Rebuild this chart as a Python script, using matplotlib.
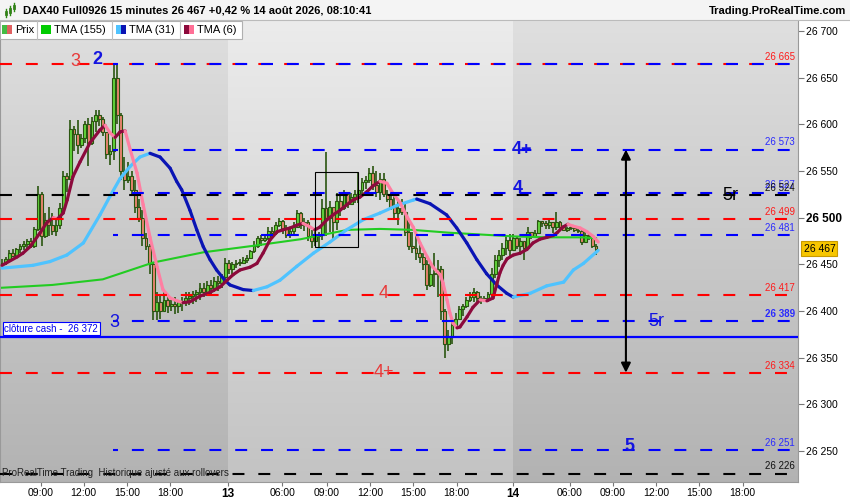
# DAX40 15 minutes chart with levels, ProRealTime style.

import matplotlib
matplotlib.use("Agg")
import matplotlib.pyplot as plt
import numpy as np
from matplotlib.collections import LineCollection
from matplotlib.patches import Rectangle

plt.rcParams['font.family'] = ['Liberation Sans', 'DejaVu Sans']
plt.rcParams['lines.scale_dashes'] = False

# Price bars (15 minutes), one value per bar. Open = previous close.
first_open = 26450
highs = [26456, 26458, 26465, 26466, 26468, 26472, 26475, 26477, 26478, 26490,
         26534, 26528, 26505, 26512, 26505, 26500, 26516, 26550, 26548, 26605,
         26598, 26605, 26590, 26604, 26607, 26608, 26615, 26615, 26608, 26592,
         26578, 26666, 26666, 26612, 26565, 26560, 26550, 26540, 26520, 26508,
         26484, 26472, 26452, 26420, 26418, 26420, 26418, 26412, 26415, 26412,
         26415, 26420, 26420, 26422, 26423, 26430, 26430, 26432, 26433, 26437,
         26438, 26440, 26457, 26455, 26453, 26455, 26456, 26458, 26460, 26465,
         26475, 26480, 26482, 26480, 26490, 26490, 26495, 26500, 26498, 26492,
         26490, 26495, 26508, 26506, 26500, 26498, 26487, 26486, 26485, 26520,
         26570, 26518, 26510, 26527, 26526, 26530, 26526, 26527, 26530, 26548,
         26543, 26545, 26553, 26555, 26550, 26548, 26548, 26530, 26527, 26524,
         26519, 26520, 26515, 26495, 26485, 26484, 26475, 26462, 26455, 26452,
         26462, 26455, 26448, 26402, 26380, 26390, 26398, 26405, 26408, 26415,
         26420, 26425, 26422, 26416, 26416, 26420, 26446, 26460, 26465, 26473,
         26481, 26483, 26483, 26480, 26478, 26473, 26490, 26485, 26487, 26498,
         26496, 26496, 26498, 26495, 26506, 26497, 26491, 26490, 26491, 26490,
         26489, 26487, 26485, 26484, 26478, 26472]
lows = [26448, 26449, 26455, 26458, 26458, 26462, 26465, 26467, 26468, 26468,
        26486, 26470, 26478, 26480, 26482, 26480, 26488, 26505, 26528, 26540,
        26572, 26568, 26575, 26580, 26555, 26578, 26592, 26598, 26588, 26563,
        26556, 26562, 26600, 26540, 26530, 26537, 26525, 26505, 26495, 26470,
        26465, 26440, 26390, 26390, 26392, 26400, 26398, 26400, 26397, 26398,
        26400, 26405, 26407, 26408, 26410, 26412, 26415, 26416, 26418, 26420,
        26422, 26425, 26432, 26440, 26440, 26446, 26448, 26450, 26452, 26456,
        26462, 26468, 26470, 26474, 26476, 26480, 26482, 26490, 26483, 26478,
        26478, 26480, 26490, 26488, 26486, 26475, 26468, 26470, 26468, 26476,
        26480, 26485, 26475, 26487, 26502, 26508, 26510, 26515, 26516, 26516,
        26524, 26531, 26537, 26530, 26522, 26519, 26522, 26517, 26508, 26500,
        26492, 26503, 26480, 26465, 26462, 26455, 26452, 26444, 26423, 26426,
        26426, 26415, 26390, 26350, 26357, 26365, 26385, 26392, 26395, 26403,
        26410, 26410, 26410, 26408, 26410, 26410, 26415, 26435, 26447, 26455,
        26460, 26458, 26465, 26466, 26460, 26455, 26466, 26477, 26479, 26483,
        26490, 26488, 26488, 26484, 26487, 26486, 26486, 26485, 26487, 26485,
        26484, 26471, 26474, 26476, 26468, 26460]
closes = [26452, 26456, 26462, 26459, 26466, 26470, 26472, 26475, 26470, 26488,
          26525, 26480, 26498, 26492, 26486, 26492, 26510, 26545, 26542, 26595,
          26590, 26578, 26585, 26600, 26580, 26604, 26610, 26606, 26592, 26568,
          26572, 26650, 26610, 26550, 26540, 26545, 26530, 26512, 26500, 26478,
          26470, 26450, 26400, 26410, 26400, 26412, 26405, 26408, 26405, 26410,
          26410, 26414, 26416, 26418, 26420, 26425, 26420, 26428, 26425, 26432,
          26430, 26436, 26452, 26445, 26450, 26452, 26452, 26455, 26457, 26464,
          26470, 26478, 26476, 26478, 26486, 26484, 26492, 26496, 26488, 26482,
          26486, 26490, 26505, 26492, 26495, 26480, 26475, 26480, 26482, 26510,
          26500, 26512, 26495, 26518, 26510, 26525, 26515, 26522, 26525, 26530,
          26538, 26540, 26548, 26535, 26528, 26542, 26525, 26520, 26512, 26505,
          26510, 26506, 26485, 26470, 26468, 26462, 26458, 26450, 26428, 26440,
          26440, 26445, 26400, 26365, 26372, 26385, 26392, 26402, 26405, 26412,
          26415, 26420, 26414, 26412, 26414, 26418, 26440, 26455, 26460, 26468,
          26476, 26465, 26478, 26470, 26475, 26468, 26485, 26480, 26484, 26496,
          26494, 26492, 26495, 26490, 26495, 26490, 26487, 26489, 26489, 26487,
          26486, 26474, 26482, 26480, 26470, 26467]

# Moving averages (bar index, price).
ma155_x = [0, 14, 28, 42, 56, 70, 83, 96, 105, 114, 124, 133, 142, 151, 161, 165]
ma155 = [26425, 26428, 26434, 26452, 26463, 26470, 26477, 26487, 26488, 26487,
         26484, 26482, 26480, 26479, 26479, 26478]

ma31_x = [0, 8.6, 13.3, 18, 22.6, 27.2, 30, 32.8, 35.6, 38.3, 41.1, 43.9, 46.7,
          48.5, 49.9, 52.2, 54.1, 55.9, 57.8, 59.6, 61.9, 63.3, 67, 69.8, 73.6,
          77.2, 81.9, 86.5, 91.1, 95.7, 100.4, 105, 109.6, 114.3, 115.2, 118.9,
          123.5, 126.3, 129.1, 131.9, 134.6, 137.4, 140.2, 142, 146.7, 151.3, 156,
          158.7, 161.5, 165.6]
ma31 = [26446, 26449, 26453, 26460, 26473, 26503, 26523, 26542, 26555, 26565,
        26569, 26565, 26553, 26539, 26530, 26508, 26487, 26469, 26455, 26444,
        26433, 26428, 26423, 26422, 26426, 26433, 26448, 26462, 26474, 26487,
        26498, 26505, 26513, 26519, 26520, 26515, 26503, 26489, 26473, 26455,
        26440, 26428, 26419, 26415, 26419, 26427, 26431, 26444, 26451, 26465]

ma6_x = [0, 4.2, 5.8, 7.8, 10.6, 12.5, 14.2, 15.5, 17, 18.1, 19.7, 21.7, 24.4,
         27.2, 28.6, 30, 31.4, 32.8, 34.2, 35.6, 37.5, 39.2, 41.1, 43.1, 44.7,
         46.7, 48.6, 50.3, 52.2, 55, 57.8, 60.6, 62.5, 64.2, 66.1, 68.9, 70.8,
         72.5, 74.4, 76.4, 78, 80, 81.9, 83.6, 85.6, 86.9, 88.3, 90.3, 91.9,
         93.9, 95.8, 97.5, 99.4, 101.4, 103, 105, 106.9, 108.6, 110.6, 112.5,
         114.2, 116.1, 118.1, 119.7, 121.7, 122.5, 123.6, 124.4, 125.3, 126.4,
         127.2, 129.2, 130.8, 132.8, 134.7, 136.4, 137.5, 138.3, 139.2, 140.3,
         142, 143.9, 145.8, 147.5, 149.4, 151.4, 153.1, 154.2, 155.8, 157.2,
         158.6, 160.6, 162.5, 164.2, 165.6]
ma6 = [26449, 26458, 26462, 26469, 26484, 26495, 26500, 26499, 26505, 26519,
       26544, 26560, 26580, 26594, 26599, 26591, 26586, 26592, 26593, 26573,
       26548, 26514, 26479, 26447, 26423, 26414, 26411, 26409, 26410, 26416,
       26420, 26426, 26433, 26439, 26444, 26447, 26451, 26462, 26476, 26485,
       26487, 26489, 26492, 26494, 26490, 26487, 26490, 26498, 26503, 26508,
       26514, 26519, 26522, 26528, 26534, 26539, 26537, 26526, 26516, 26501,
       26490, 26473, 26458, 26447, 26439, 26430, 26412, 26398, 26387, 26382,
       26383, 26394, 26404, 26412, 26411, 26414, 26430, 26441, 26449, 26456,
       26460, 26462, 26466, 26473, 26477, 26479, 26481, 26484, 26490, 26493,
       26491, 26489, 26485, 26480, 26474]

# Levels.
red_levels = [26665, 26499, 26417, 26334]
blue_levels = [26665, 26573, 26527, 26481, 26389, 26251]
black_levels = [26524, 26226]
cash_close = 26372
last_price = 26467

# Time axis: tick positions in bars and their labels.
tick_pos = [10.7, 22.7, 34.7, 46.7, 62.8, 77.8, 90.2, 102.2, 114.2, 126.3,
            141.9, 157.7, 169.7, 181.7, 193.7, 205.7]
tick_labels = ['09:00', '12:00', '15:00', '18:00', '13', '06:00', '09:00', '12:00',
               '15:00', '18:00', '14', '06:00', '09:00', '12:00', '15:00', '18:00']
day_starts = [62.8, 141.9]
y_ticks = [26250, 26300, 26350, 26400, 26450, 26500, 26550, 26600, 26650, 26700]


def fmt(v):
    return f"{v:,}".replace(",", " ")


fig = plt.figure(figsize=(8.5, 5), dpi=100)
fig.patch.set_facecolor('white')

ax = fig.add_axes([0, 18 / 500, 798 / 850, 462 / 500])
xmin, xmax = -0.56, 221.1
ymin, ymax = 26216.9, 26711.8
ax.set_xlim(xmin, xmax)
ax.set_ylim(ymin, ymax)

# Background: vertical gradient, darker on day 12 and day 14.
grad = np.linspace(0, 1, 256)[:, None]
edges = [xmin] + day_starts + [xmax]
for k in range(3):
    if k == 1:
        top, bot = np.array([0.925, 0.925, 0.925]), np.array([0.765, 0.765, 0.765])
    else:
        top, bot = np.array([0.875, 0.875, 0.875]), np.array([0.70, 0.70, 0.70])
    img = top[None, None, :] * (1 - grad[:, :, None]) + bot[None, None, :] * grad[:, :, None]
    ax.imshow(img, extent=[edges[k], edges[k + 1], ymin, ymax], aspect='auto',
              origin='upper', zorder=0)

# Candles.
x = np.arange(len(closes))
c = np.array(closes, dtype=float)
o = np.concatenate([[first_open], c[:-1]])
h = np.array(highs, dtype=float)
l = np.array(lows, dtype=float)
up = c >= o
body_col = np.where(up, '#62d43c', '#ea8470')
ax.vlines(x, l, h, color='#2a5510', lw=1.2, zorder=3)
ax.bar(x, np.maximum(np.abs(c - o), 1.0), bottom=np.minimum(o, c), width=0.75,
       color=body_col, edgecolor='#2a5510', linewidth=0.8, zorder=4)


# Moving averages coloured by slope.
def slope_line(xs, ys, up_color, down_color, lw):
    pts = np.column_stack([xs, ys])
    segs = np.stack([pts[:-1], pts[1:]], axis=1)
    cols = [up_color if b >= a else down_color for a, b in zip(ys[:-1], ys[1:])]
    ax.add_collection(LineCollection(segs, colors=cols, linewidths=lw,
                                     capstyle='round', joinstyle='round', zorder=5))


ax.plot(ma155_x, ma155, color='#22cc22', lw=1.5, zorder=5)
slope_line(ma31_x, ma31, '#4fc3ff', '#0a14b4', 2.3)
slope_line(ma6_x, ma6, '#8c0a3c', '#ff7fa2', 2.3)

# Level lines.
dash = (0, (8.6, 10))
blue_start = 30.8
for v in red_levels:
    ax.hlines(v, xmin, xmax, colors='#ff0000', linestyles=[dash], lw=1.5, zorder=6)
for v in black_levels:
    ax.hlines(v, xmin, xmax, colors='#000000', linestyles=[dash], lw=1.5, zorder=6)
for v in blue_levels:
    ax.hlines(v, blue_start, xmax, colors='#0000ff', linestyles=[(5, (8.6, 10))], lw=1.5, zorder=6)
ax.hlines(cash_close, xmin, xmax, colors='#0000ff', lw=1.6, zorder=6)

# Value labels at the right end of the lines.
for v in red_levels:
    ax.annotate(fmt(v), xy=(1, v), xycoords=('axes fraction', 'data'), xytext=(-2, 1.5),
                textcoords='offset points', ha='right', va='bottom', fontsize=7,
                color='#ff1a1a', zorder=8)
for v in blue_levels:
    if v == 26665:
        continue
    ax.annotate(fmt(v), xy=(1, v), xycoords=('axes fraction', 'data'), xytext=(-2, 1.5),
                textcoords='offset points', ha='right', va='bottom', fontsize=7,
                color='#2a2aff', fontweight='bold' if v == 26389 else 'normal', zorder=8)
for v in black_levels:
    ax.annotate(fmt(v), xy=(1, v), xycoords=('axes fraction', 'data'), xytext=(-2, 1.5),
                textcoords='offset points', ha='right', va='bottom', fontsize=7,
                color='#111111', zorder=8)

# Cash close label.
ax.annotate('clôture cash -  ' + fmt(cash_close), xy=(0.002, cash_close),
            xycoords=('axes fraction', 'data'), xytext=(2, 2.5), textcoords='offset points',
            ha='left', va='bottom', fontsize=7, color='#0000ee', zorder=8,
            bbox=dict(boxstyle='square,pad=0.15', fc='white', ec='#0000ff', lw=0.8))

# Level tags.
red = '#e83a3a'
blue = '#1414e0'
tags = [('3', 20.3, 26667, red, 'normal'), ('2', 26.4, 26669, blue, 'bold'),
        ('4+', 144.4, 26573, blue, 'bold'), ('4', 143.3, 26531, blue, 'bold'),
        ('5r', 202.2, 26524, 'black', 'normal'), ('4', 106.1, 26419, red, 'normal'),
        ('5r', 181.7, 26389, blue, 'normal'), ('3', 31.1, 26388, blue, 'normal'),
        ('4+', 106.1, 26334, red, 'normal'), ('5', 174.4, 26255, blue, 'bold')]
for t, tx, ty, col, w in tags:
    ax.text(tx, ty, t, color=col, fontsize=13, fontweight=w, ha='center', va='center',
            zorder=7)

# Box and double arrow.
ax.add_patch(Rectangle((86.9, 26469), 12, 80, fill=False, ec='black', lw=0.8, zorder=7))
ax.annotate('', xy=(173.3, 26573), xytext=(173.3, 26334),
            arrowprops=dict(arrowstyle='<|-|>', color='black', lw=1.5,
                            mutation_scale=14, shrinkA=0, shrinkB=0), zorder=7)

# Footer note.
ax.text(0.003, 0.012, 'ProRealTime Trading  Historique ajusté aux rollovers',
        transform=ax.transAxes, fontsize=7, color='#222222', zorder=8)

# Axes.
ax.yaxis.tick_right()
ax.set_yticks(y_ticks)
ax.set_yticklabels([fmt(v) for v in y_ticks], fontsize=7.5)
for lab, v in zip(ax.get_yticklabels(), y_ticks):
    if v == 26500:
        lab.set_fontweight('bold')
        lab.set_fontsize(8.5)
ax.tick_params(axis='y', length=4, color='#777777', pad=2)
ax.set_xticks(tick_pos)
ax.set_xticklabels(tick_labels, fontsize=7.5)
for lab, t in zip(ax.get_xticklabels(), tick_labels):
    if ':' not in t:
        lab.set_fontweight('bold')
        lab.set_fontsize(8.5)
ax.tick_params(axis='x', length=3, color='#777777', pad=1)
ax.spines['top'].set_visible(False)
for s in ['left', 'right', 'bottom']:
    ax.spines[s].set_color('#999999')
    ax.spines[s].set_linewidth(0.8)

# Last price tag.
ax.annotate(fmt(last_price), xy=(1, last_price), xycoords=('axes fraction', 'data'),
            xytext=(4, 0), textcoords='offset points', ha='left', va='center', fontsize=7.5,
            color='black', zorder=9, annotation_clip=False,
            bbox=dict(boxstyle='square,pad=0.2', fc='#f7c600', ec='#c89a00', lw=0.8))

# Header and legend, drawn in pixel coordinates.
top = fig.add_axes([0, 0, 1, 1], zorder=10)
top.set_xlim(0, 850)
top.set_ylim(500, 0)
top.axis('off')
top.patch.set_alpha(0)
top.add_patch(Rectangle((0, 0), 850, 20, fc='#f4f4f4', ec='none'))
top.plot([0, 850], [19.5, 19.5], color='#bbbbbb', lw=0.8)
# small candle icon
top.plot([6, 6], [9, 17], color='#2c8a12', lw=1)
top.add_patch(Rectangle((5, 11), 2, 4, fc='#66d444', ec='#2c5a12', lw=0.5))
top.plot([10, 10], [6, 15], color='#2c8a12', lw=1)
top.add_patch(Rectangle((9, 8), 2, 5, fc='#66d444', ec='#2c5a12', lw=0.5))
top.plot([14, 14], [3, 11], color='#2c8a12', lw=1)
top.add_patch(Rectangle((13, 5), 2, 4, fc='#66d444', ec='#2c5a12', lw=0.5))
top.text(23, 10.5, 'DAX40 Full0926 15 minutes 26 467 +0,42 % 14 août 2026, 08:10:41',
         fontsize=8, fontweight='bold', va='center', ha='left')
top.text(846, 10.5, 'Trading.ProRealTime.com', fontsize=8, fontweight='bold',
         va='center', ha='right')

top.add_patch(Rectangle((0, 20.5), 242, 18, fc='white', ec='#b0b0b0', lw=0.8))
for sx in [37, 112, 180]:
    top.plot([sx, sx], [20.5, 38.5], color='#c0c0c0', lw=0.8)
swatches = [(2, '#44bb44', '#e06060', 'Prix'), (41, '#00cc00', '#00cc00', 'TMA (155)'),
            (116, '#4fc3ff', '#0a14b4', 'TMA (31)'), (184, '#8c0a3c', '#ff6f96', 'TMA (6)')]
for sx, c1, c2, name in swatches:
    top.add_patch(Rectangle((sx, 25), 5, 9, fc=c1, ec='none'))
    top.add_patch(Rectangle((sx + 5, 25), 5, 9, fc=c2, ec='none'))
    top.text(sx + 13, 30, name, fontsize=8, va='center', ha='left')

plt.savefig('out.png', dpi=100)
